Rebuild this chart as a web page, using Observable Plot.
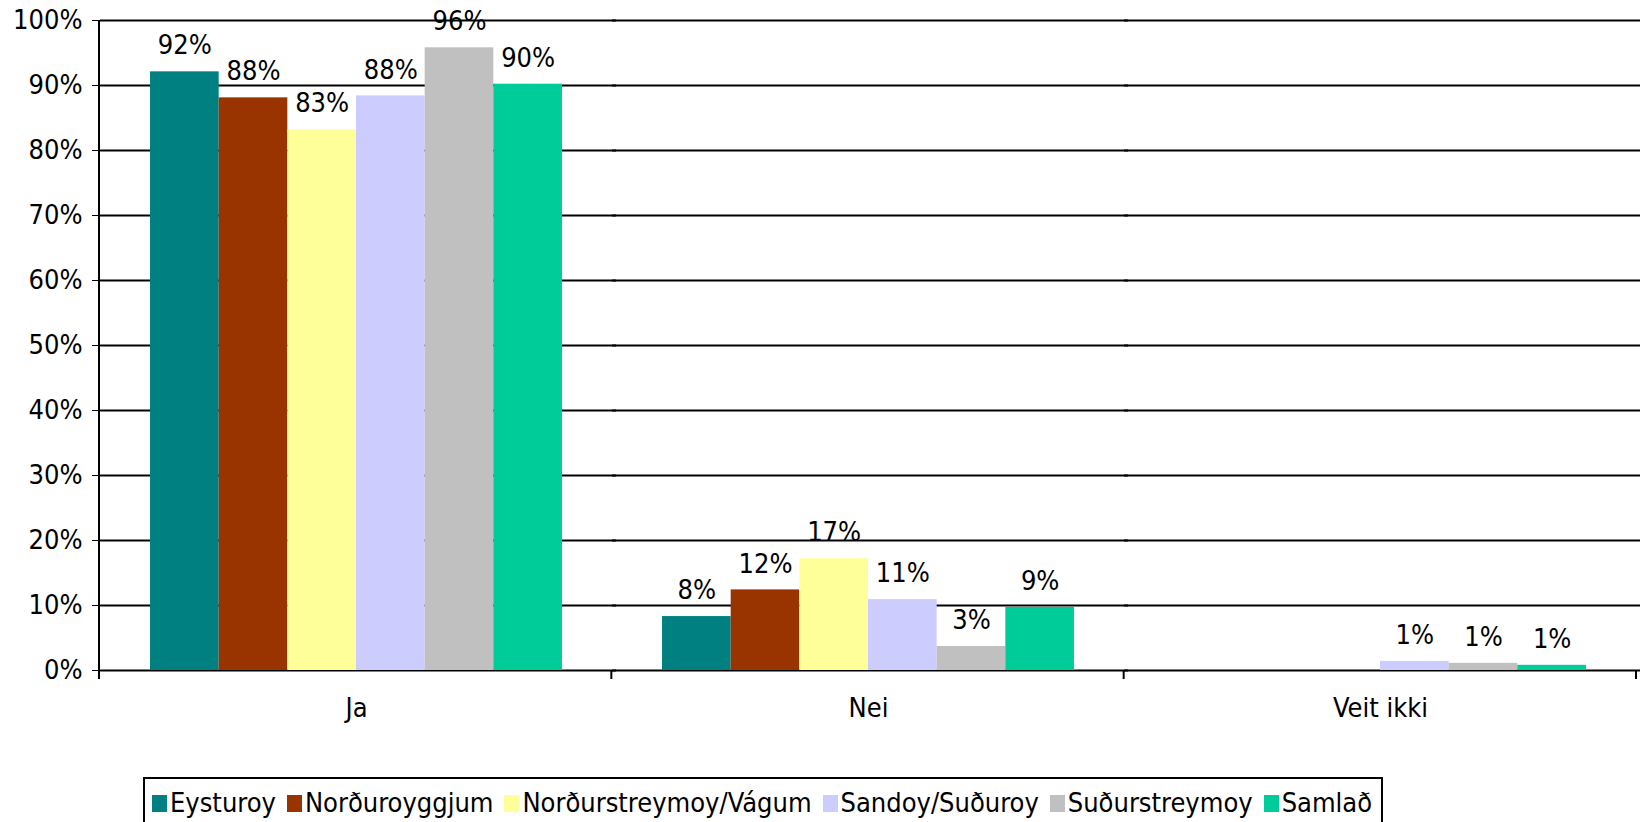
<!DOCTYPE html>
<html>
<head>
<meta charset="utf-8">
<script src="https://cdn.jsdelivr.net/npm/d3@7"></script>
<script src="https://cdn.jsdelivr.net/npm/@observablehq/plot@0.6"></script>
<style>
  body { margin: 0; background: #fff; }
  #chart { width: 1643px; }
  .legend {
    margin-left: 143px; margin-top: 7px; width: 1240px; height: 60px;
    border: 2px solid #000; box-sizing: border-box;
    display: flex; align-items: flex-start;
    padding: 8px 0 0 7px;
    font-family: 'DejaVu Sans Condensed', 'DejaVu Sans', sans-serif; font-stretch: condensed;
    font-size: 27px; line-height: 32px; color: #000;
  }
  .item { display: flex; align-items: center; margin-right: 11px; white-space: nowrap; }
  .sw { width: 15px; height: 17px; margin-right: 3px; }
</style>
</head>
<body>
<div id="chart"></div>
<script>
const categories = ["Ja", "Nei", "Veit ikki"];
const series = ["Eysturoy", "Norðuroyggjum", "Norðurstreymoy/Vágum", "Sandoy/Suðuroy", "Suðurstreymoy", "Samlað"];
const colors = ["#008080", "#993300", "#FFFF99", "#CCCCFF", "#C0C0C0", "#00CC99"];
// values in percent, per series, in category order
const valEysturoy = [92.1, 8.3, 0];
const valNordoy = [88.1, 12.4, 0];
const valNordstreymoy = [83.2, 17.2, 0];
const valSandoy = [88.4, 10.9, 1.4];
const valSudstreymoy = [95.8, 3.7, 1.1];
const valSamlad = [90.2, 9.7, 0.8];
const seriesValues = [valEysturoy, valNordoy, valNordstreymoy, valSandoy, valSudstreymoy, valSamlad];
// data labels as printed, per category
const labelsJa = ["92%", "88%", "83%", "88%", "96%", "90%"];
const labelsNei = ["8%", "12%", "17%", "11%", "3%", "9%"];
const labelsVeit = ["", "", "", "1%", "1%", "1%"];
const categoryLabels = [labelsJa, labelsNei, labelsVeit];
const yTicks = [0, 0.1, 0.2, 0.3, 0.4, 0.5, 0.6, 0.7, 0.8, 0.9, 1.0];

const rows = [];
categories.forEach((c, i) => series.forEach((s, j) => {
  rows.push({category: c, series: s, value: seriesValues[j][i] / 100, label: categoryLabels[i][j]});
}));

const font = "'DejaVu Sans Condensed', 'DejaVu Sans', sans-serif";

const chart = Plot.plot({
  width: 1643, height: 770,
  marginLeft: 99, marginRight: 7, marginTop: 20, marginBottom: 100,
  style: {fontFamily: font, fontStretch: "condensed", fontSize: "27px", color: "#000", background: "#fff", overflow: "visible"},
  facet: {data: rows, x: "category"},
  fx: {domain: categories, padding: 0, label: null, tickSize: 0, tickPadding: 27, axis: "bottom"},
  x: {domain: series, paddingInner: 0, paddingOuter: 0.7285, axis: null, round: false},
  y: {domain: [0, 1], ticks: yTicks, tickFormat: d3.format(".0%"), label: null, tickSize: 8, tickPadding: 10},
  color: {domain: series, range: colors},
  marks: [
    Plot.ruleY(yTicks, {stroke: "#000", strokeWidth: 2, insetRight: -4}),
    Plot.barY(rows, {x: "series", y: "value", fill: "series"}),
    Plot.text(rows, {x: "series", y: "value", text: "label", dy: -26, fill: "#000"})
  ]
});

// axis line and category boundary ticks, from the plot's own scales
const fxD = chart.scale("fx"), yD = chart.scale("y");
const ys = d3.scaleLinear(yD.domain, yD.range);
const fxs = d3.scaleBand(fxD.domain, fxD.range)
  .paddingInner(fxD.paddingInner ?? 0).paddingOuter(fxD.paddingOuter ?? 0).align(fxD.align ?? 0.5);
const y0 = ys(0), y1 = ys(1);
const g = d3.select(chart).append("g").attr("stroke", "#000").attr("stroke-width", 2);
const bounds = categories.map(c => fxs(c)).concat([fxs(categories[categories.length - 1]) + fxs.bandwidth()]);
g.append("line").attr("x1", bounds[0]).attr("x2", bounds[0]).attr("y1", y1).attr("y2", y0 + 9);
bounds.slice(1).forEach(b => g.append("line").attr("x1", b).attr("x2", b).attr("y1", y0).attr("y2", y0 + 9));

document.getElementById("chart").appendChild(chart);

// legend
const legend = d3.select("#chart").append("div").attr("class", "legend");
series.forEach((s, i) => {
  const it = legend.append("div").attr("class", "item");
  it.append("div").attr("class", "sw").style("background", colors[i]);
  it.append("span").text(s);
});
</script>
</body>
</html>
